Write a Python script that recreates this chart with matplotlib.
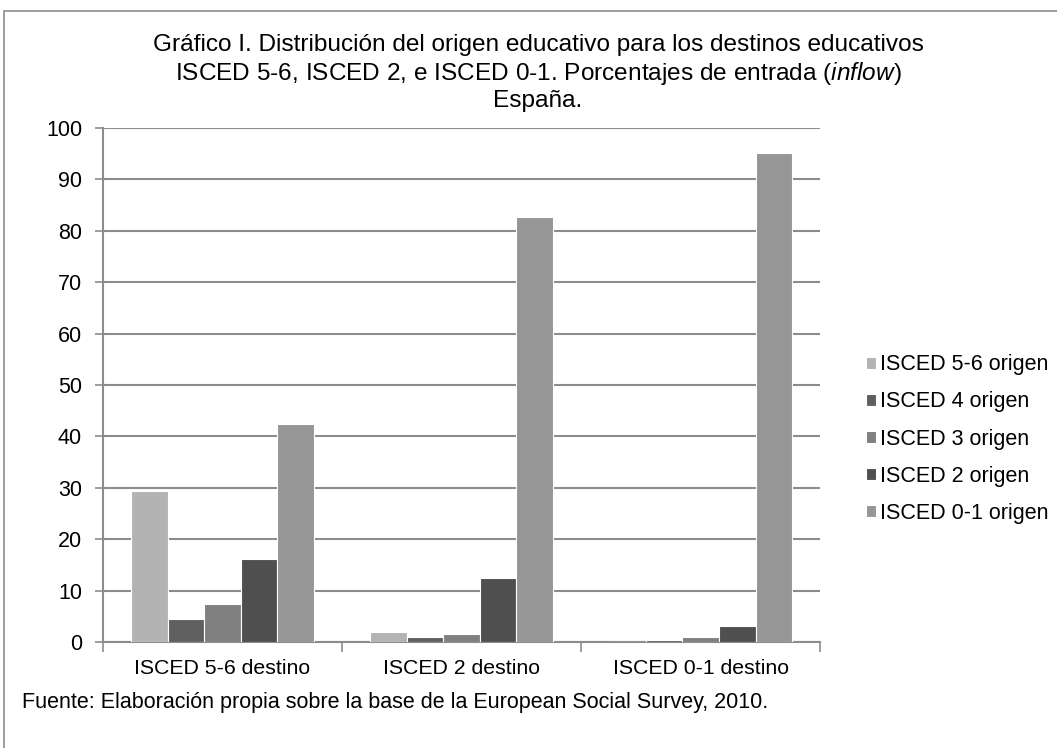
import matplotlib
matplotlib.use("Agg")
import matplotlib.pyplot as plt
import numpy as np
from matplotlib.patches import Rectangle

plt.rcParams['font.family'] = ['Liberation Sans', 'DejaVu Sans']
plt.rcParams['mathtext.fontset'] = 'custom'
plt.rcParams['mathtext.rm'] = 'Liberation Sans'
plt.rcParams['mathtext.it'] = 'Liberation Sans:italic'

### data
destinos = ['ISCED 5-6 destino', 'ISCED 2 destino', 'ISCED 0-1 destino']
origenes = ['ISCED 5-6 origen', 'ISCED 4 origen', 'ISCED 3 origen',
            'ISCED 2 origen', 'ISCED 0-1 origen']
isced56 = [29.3, 1.9, 0.0]
isced4 = [4.4, 0.9, 0.3]
isced3 = [7.3, 1.6, 0.9]
isced2 = [16.2, 12.5, 3.2]
isced01 = [42.4, 82.7, 95.1]
series = [isced56, isced4, isced3, isced2, isced01]
colores = ['#b3b3b3', '#5f5f5f', '#808080', '#4f4f4f', '#969696']

fig = plt.figure(figsize=(10.57, 7.48), dpi=100)
ax = fig.add_axes([0.0974, 0.1417, 0.6786, 0.6872])

x = np.arange(len(destinos))
w = 0.153
for i, vals in enumerate(series):
    ax.bar(x + (i - 2) * w, vals, width=w, color=colores[i], label=origenes[i],
           edgecolor='white', linewidth=0.8, zorder=3)

ax.set_xlim(-0.5, 2.5)
ax.set_ylim(0, 100)
ax.set_yticks(range(0, 101, 10))
ax.yaxis.grid(True, color='#8c8c8c', linewidth=1.5, zorder=0)

ax.set_xticks([-0.5, 0.5, 1.5, 2.5])
ax.set_xticklabels([])
ax.set_xticks(x, minor=True)
ax.set_xticklabels(destinos, minor=True)
ax.tick_params(axis='x', which='minor', length=0, pad=12, labelsize=15.3)
ax.tick_params(axis='x', which='major', length=7, width=1.2, color='#8c8c8c')
ax.tick_params(axis='y', length=6, width=1.2, color='#8c8c8c', labelsize=15.5, pad=9)

for s in ['top', 'right']:
    ax.spines[s].set_visible(False)
for s in ['left', 'bottom']:
    ax.spines[s].set_color('#8c8c8c')
    ax.spines[s].set_linewidth(1.5)

leg = fig.legend(loc='center left', bbox_to_anchor=(0.819, 0.413), frameon=False,
                 fontsize=15.5, handlelength=0.47, handleheight=0.47,
                 handletextpad=0.2, labelspacing=0.75, borderpad=0, borderaxespad=0)

### title lines
fig.text(0.509, 0.94, 'Gráfico I. Distribución del origen educativo para los destinos educativos',
         ha='center', va='center', fontsize=17.6)
fig.text(0.509, 0.902, 'ISCED 5-6, ISCED 2, e ISCED 0-1. Porcentajes de entrada ($\\mathit{inflow}$)',
         ha='center', va='center', fontsize=17.6)
fig.text(0.509, 0.865, 'España.', ha='center', va='center', fontsize=17.6)

fig.text(0.021, 0.061, 'Fuente: Elaboración propia sobre la base de la European Social Survey, 2010.',
         ha='left', va='center', fontsize=15.5)

### outer frame
fig.patches.append(Rectangle((0.004, -0.1), 1.2, 1.1 - 11 / 748, transform=fig.transFigure,
                             fill=False, edgecolor='#8c8c8c', linewidth=1.2))

plt.savefig('out.png', dpi=100)
